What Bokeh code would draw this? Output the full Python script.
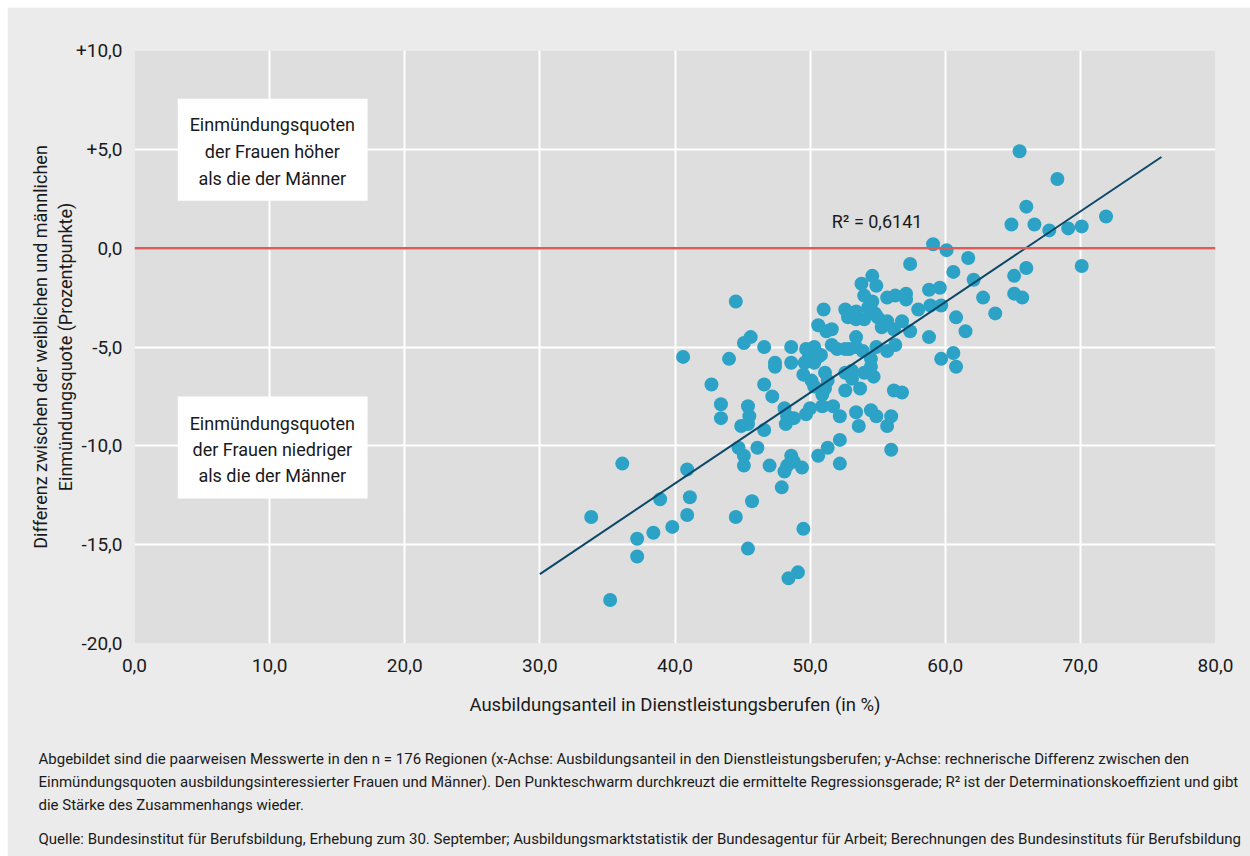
import numpy as np
from bokeh.plotting import figure
from bokeh.models import Label, BoxAnnotation, Span, FixedTicker, ColumnDataSource, Title
from bokeh.embed import file_html
from bokeh.resources import INLINE

# ---- data ----
anteil = [33.8, 35.2, 36.1, 37.2, 37.2, 38.4, 38.9, 39.8, 40.6, 40.9, 41.1, 40.9, 42.7,
          43.4, 43.4, 44.0, 44.5, 44.5, 44.7, 44.9, 45.1, 45.1, 45.1, 45.4, 45.5, 45.4, 45.4,
          45.6, 45.7, 46.1,
          46.6, 46.6, 46.6, 47.0, 47.2, 47.4, 47.4, 47.9, 48.1, 48.3, 48.2, 48.8, 48.6, 48.6,
          48.6, 48.3, 48.1, 48.8, 49.4, 48.4, 49.1,
          49.5, 49.7, 50.3, 49.9, 50.6, 50.8, 49.6, 50.3, 49.5, 50.0, 49.7, 50.9, 51.7, 52.2,
          50.6, 51.3, 52.2, 52.2, 50.1, 50.3, 51.1, 51.3, 51.1, 50.9, 51.0, 50.6, 51.2, 51.6,
          51.6, 52.0, 52.6, 52.9, 53.4,
          52.6, 52.8, 53.4, 53.4, 54.0, 54.8, 55.0, 55.3, 55.7, 53.8, 54.6, 54.9, 54.0, 54.6,
          54.3, 55.7, 56.3, 57.1, 57.1, 56.8, 57.4, 58.0, 58.8, 59.6, 58.9, 59.7, 57.4, 59.1,
          60.1, 60.6, 61.7, 62.1, 62.8, 60.8, 61.5, 58.8, 59.7, 60.6, 60.8, 63.7, 65.1, 66.0,
          65.1, 65.7, 64.9, 66.0, 66.6, 67.7, 69.1, 70.1, 71.9, 70.1, 65.5, 68.3, 56.2, 53.4,
          53.9, 54.9, 55.7, 56.3, 54.5, 54.5, 53.1, 53.1, 54.0, 54.7, 52.6, 52.6, 53.7, 56.2,
          56.8, 53.4, 54.5, 54.9, 56.0, 53.6, 55.7, 56.0]
differenz = [-13.6, -17.8, -10.9, -14.7, -15.6, -14.4, -12.7, -14.1, -5.5, -11.2, -12.6, -13.5, -6.9,
             -7.9, -8.6, -5.6, -2.7, -13.6, -10.1, -9.0, -4.8, -10.5, -11.0, -8.0, -8.5, -8.9, -15.2,
             -4.5, -12.8, -10.1,
             -5.0, -6.9, -9.2, -11.0, -7.5, -5.8, -6.0, -12.1, -8.1, -8.5, -8.9, -8.6, -5.0, -5.8,
             -10.5, -11.0, -11.3, -10.8, -11.1, -16.7, -16.4,
             -14.2, -5.1, -5.0, -5.5, -5.5, -5.4, -5.8, -5.8, -6.4, -8.1, -8.4, -8.0, -8.0, -8.5,
             -10.5, -10.1, -9.7, -10.9, -6.7, -7.0, -6.3, -6.7, -7.1, -7.4, -3.1, -3.9, -4.2, -4.1,
             -4.9, -5.1, -5.1, -5.1, -4.5,
             -3.1, -3.5, -3.2, -3.6, -3.6, -3.3, -3.5, -4.0, -3.7, -1.8, -1.4, -1.9, -2.4, -2.7,
             -3.0, -2.5, -2.4, -2.3, -2.6, -3.7, -4.2, -3.1, -2.1, -2.0, -2.9, -2.9, -0.8, 0.2,
             -0.1, -1.2, -0.5, -1.6, -2.5, -3.5, -4.2, -4.5, -5.6, -5.3, -6.0, -3.3, -1.4, -1.0,
             -2.3, -2.5, 1.2, 2.1, 1.2, 0.9, 1.0, 1.1, 1.6, -0.9, 4.9, 3.5, -4.1, -5.0,
             -5.2, -5.0, -5.2, -4.9, -5.6, -6.0, -6.2, -6.6, -6.3, -6.5, -6.3, -7.2, -7.1, -7.2,
             -7.3, -8.3, -8.2, -8.5, -8.5, -9.0, -9.0, -10.2]

# regression line
reg_slope = 0.4587
reg_intercept = -30.25
reg_x = [30.0, 76.0]
r2_text = "R\u00b2 = 0,6141"

x_ticks = [0, 10, 20, 30, 40, 50, 60, 70, 80]
x_labels = ["0,0", "10,0", "20,0", "30,0", "40,0", "50,0", "60,0", "70,0", "80,0"]
y_ticks = [-20, -15, -10, -5, 0, 5, 10]
y_labels = ["-20,0", "-15,0", "-10,0", "-5,0", "0,0", "+5,0", "+10,0"]

box_upper = ["Einmündungsquoten", "der Frauen höher", "als die der Männer"]
box_lower = ["Einmündungsquoten", "der Frauen niedriger", "als die der Männer"]

notes = [
    "Abgebildet sind die paarweisen Messwerte in den n = 176 Regionen (x-Achse: Ausbildungsanteil in den Dienstleistungsberufen; y-Achse: rechnerische Differenz zwischen den",
    "Einmündungsquoten ausbildungsinteressierter Frauen und Männer). Den Punkteschwarm durchkreuzt die ermittelte Regressionsgerade; R\u00b2 ist der Determinationskoeffizient und gibt",
    "die Stärke des Zusammenhangs wieder.",
    "Quelle: Bundesinstitut für Berufsbildung, Erhebung zum 30. September; Ausbildungsmarktstatistik der Bundesagentur für Arbeit; Berechnungen des Bundesinstituts für Berufsbildung",
]

FONT = "Roboto"
TXT = "#1a1a1a"

p = figure(width=1243, height=849, x_range=(0, 80), y_range=(-20, 10),
           output_backend="svg", toolbar_location=None,
           background_fill_color="#dedede", border_fill_color="#ebebeb",
           outline_line_color=None,
           min_border_left=127, min_border_right=35, min_border_top=43, min_border_bottom=213)
p.margin = (7, 0, 0, 7)

p.xaxis.ticker = FixedTicker(ticks=x_ticks)
p.yaxis.ticker = FixedTicker(ticks=y_ticks)
p.xaxis.major_label_overrides = {t: l for t, l in zip(x_ticks, x_labels)}
p.yaxis.major_label_overrides = {t: l for t, l in zip(y_ticks, y_labels)}
for ax in (p.xaxis[0], p.yaxis[0]):
    ax.axis_line_color = None
    ax.major_tick_line_color = None
    ax.minor_tick_line_color = None
    ax.major_label_text_font = FONT
    ax.major_label_text_font_size = "19px"
    ax.major_label_text_color = TXT
    ax.axis_label_text_font = FONT
    ax.axis_label_text_font_style = "normal"
    ax.axis_label_text_color = TXT
p.xaxis.major_label_standoff = 9
p.yaxis.major_label_standoff = 6
p.xaxis.axis_label = "Ausbildungsanteil in Dienstleistungsberufen (in %)"
p.xaxis.axis_label_text_font_size = "18.5px"
p.xaxis.axis_label_standoff = 19
p.yaxis.axis_label = "Differenz zwischen der weiblichen und männlichen\nEinmündungsquote (Prozentpunkte)"
p.yaxis.axis_label_text_font_size = "18px"
p.yaxis.axis_label_standoff = -3
p.yaxis.axis_label_text_line_height = 1.2

p.xgrid.grid_line_color = "white"
p.ygrid.grid_line_color = "white"
p.xgrid.grid_line_width = 2
p.ygrid.grid_line_width = 2

# annotation boxes
p.add_layout(BoxAnnotation(left=3.2, right=17.25, top=7.56, bottom=2.4,
                           fill_color="white", fill_alpha=1, line_color=None, level="underlay"))
p.add_layout(BoxAnnotation(left=3.2, right=17.25, top=-7.5, bottom=-12.67,
                           fill_color="white", fill_alpha=1, line_color=None, level="underlay"))
for i, t in enumerate(box_upper):
    p.add_layout(Label(x=10.2, y=6.25 - i * 1.36, text=t, text_align="center", text_baseline="middle",
                       text_font=FONT, text_font_size="18px", text_color=TXT))
for i, t in enumerate(box_lower):
    p.add_layout(Label(x=10.2, y=-8.85 - i * 1.33, text=t, text_align="center", text_baseline="middle",
                       text_font=FONT, text_font_size="18px", text_color=TXT))

# zero line
p.add_layout(Span(location=0, dimension="width", line_color="#e05a5a", line_width=2.5))

src = ColumnDataSource(dict(x=anteil, y=differenz))
p.scatter("x", "y", source=src, size=14, fill_color="#2ca3c6", line_color=None)

reg_y = [reg_intercept + reg_slope * v for v in reg_x]
p.line(reg_x, reg_y, line_color="#0b4868", line_width=2)

p.add_layout(Label(x=51.6, y=1.34, text=r2_text, text_align="left", text_baseline="middle",
                   text_font=FONT, text_font_size="18px", text_color=TXT))

# footnotes as titles below the x-axis (first one is an empty spacer)
p.add_layout(Title(text=" ", align="left", standoff=5, text_font=FONT,
                   text_font_size="15px"), "below")
note_standoff = [9, -3, 9, 18]
for t, so in zip(notes, note_standoff):
    p.add_layout(Title(text=t, align="left", offset=-96, standoff=so,
                       text_font=FONT, text_font_size="15px", text_font_style="normal",
                       text_color=TXT), "below")

open("out.html", "w").write(file_html(p, INLINE))
